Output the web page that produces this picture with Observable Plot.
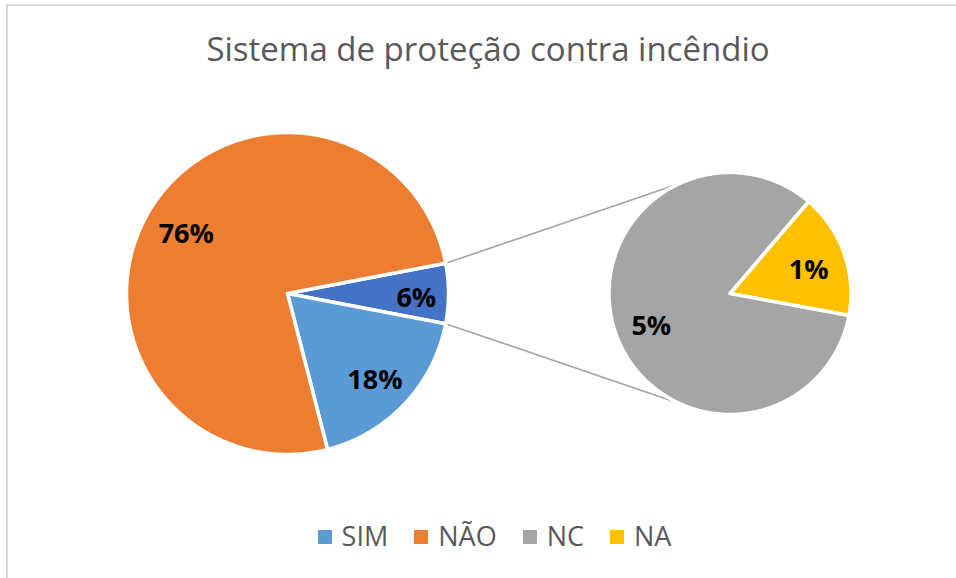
<!DOCTYPE html>
<html><head><meta charset="utf-8">
<script src="https://cdn.jsdelivr.net/npm/d3@7"></script>
<script src="https://cdn.jsdelivr.net/npm/@observablehq/plot@0.6"></script>
<style>
html,body{margin:0;padding:0;background:#fff;overflow:hidden;width:956px;height:578px;position:relative}
#frame{position:absolute;left:6px;top:4px;width:1200px;height:1200px;border:2px solid #d9d9d9;box-sizing:border-box}
#chart{position:absolute;left:0;top:0}
#title{position:absolute;left:0;width:976px;top:29px;line-height:40px;text-align:center;font-family:"Open Sans";font-size:33px;color:#595959;white-space:nowrap}
#legend{position:absolute;left:0;width:989px;top:521px;height:30px;display:flex;justify-content:center;align-items:center;font-family:"Open Sans";font-size:27px;line-height:30px;color:#595959}
.item{display:flex;align-items:center;margin:0 13px}
.sw{width:14px;height:14px;margin-right:10px;position:relative;top:1px}
</style></head>
<body>
<div id="frame"></div>
<div id="chart"></div>
<div id="title">Sistema de proteção contra incêndio</div>
<div id="legend"></div>
<script>
// ---- data ----
const categories = ["SIM", "NÃO", "NC", "NA"];
const values = [18, 76, 5, 1];
const colors = ["#5B9BD5", "#ED7D31", "#A5A5A5", "#FFC000"];
const otherLabel = "Outros";
const otherColor = "#4472C4";
const mainOrder = ["Outros", "SIM", "NÃO"];
const subOrder = ["NA", "NC"];

// ---- layout constants ----
const W = 956, H = 578;
const main = {cx: 287, cy: 293, r: 161};
const sub = {cx: 729.5, cy: 293, r: 121};
const deg = Math.PI / 180;

const val = Object.fromEntries(categories.map((c, i) => [c, values[i]]));
val[otherLabel] = subOrder.reduce((s, c) => s + val[c], 0);
const total = d3.sum(values);

function arcs(order, startDeg) {
  const pie = d3.pie().sort(null).value(k => val[k])
    .startAngle(startDeg * deg).endAngle(startDeg * deg + 2 * Math.PI);
  return pie(order);
}
const otherSpan = val[otherLabel] / total * 360;
const mainArcs = arcs(mainOrder, 90 - otherSpan / 2);
const subArcs = arcs(subOrder, 40.5);

const pt = (c, r, a) => ({x: c.cx + r * Math.sin(a), y: c.cy - r * Math.cos(a)});

const polys = [];
function addPolys(c, list, tag) {
  for (const a of list) {
    const key = tag + a.data;
    polys.push({key, cat: a.data, ...pt(c, 0, 0)});
    const n = Math.max(2, Math.ceil((a.endAngle - a.startAngle) / deg * 2));
    for (let i = 0; i <= n; i++) {
      const t = a.startAngle + (a.endAngle - a.startAngle) * i / n;
      polys.push({key, cat: a.data, ...pt(c, c.r, t)});
    }
    polys.push({key, cat: a.data, ...pt(c, 0, 0)});
  }
}
addPolys(main, mainArcs, "m");
addPolys(sub, subArcs, "s");

const labels = [];
for (const a of mainArcs) {
  const m = (a.startAngle + a.endAngle) / 2;
  const f = a.data === otherLabel ? 0.8 : 0.745;
  labels.push({...pt(main, main.r * f, m), text: Math.round(val[a.data] / total * 100) + "%"});
}
for (const a of subArcs) {
  const m = (a.startAngle + a.endAngle) / 2;
  labels.push({...pt(sub, sub.r * 0.69, m), text: Math.round(val[a.data] / total * 100) + "%"});
}

const oth = mainArcs.find(a => a.data === otherLabel);
const connectors = [
  {p1: pt(main, main.r, oth.startAngle), p2: pt(sub, sub.r, 335 * deg)},
  {p1: pt(main, main.r, oth.endAngle), p2: pt(sub, sub.r, 205 * deg)}
];

const chart = Plot.plot({
  width: W, height: H, margin: 0,
  x: {domain: [0, W], range: [0, W], axis: null},
  y: {domain: [0, H], range: [0, H], axis: null},
  color: {domain: [...categories, otherLabel], range: [...colors, otherColor]},
  style: {background: "transparent"},
  marks: [
    Plot.link(connectors, {x1: d => d.p1.x, y1: d => d.p1.y, x2: d => d.p2.x, y2: d => d.p2.y,
      stroke: "#A5A5A5", strokeWidth: 1.6}),
    Plot.line(polys, {x: "x", y: "y", z: "key", fill: "cat", stroke: "white",
      strokeWidth: 3.5, strokeLinejoin: "round", curve: "linear"}),
    Plot.text(labels, {x: "x", y: "y", text: "text", fill: "black", fontSize: 27, dy: 5,
      fontWeight: "bold", fontFamily: "Open Sans"})
  ]
});
document.getElementById("chart").appendChild(chart);

const legend = document.getElementById("legend");
categories.forEach((c, i) => {
  const it = document.createElement("div");
  it.className = "item";
  const sw = document.createElement("div");
  sw.className = "sw";
  sw.style.background = colors[i];
  const tx = document.createElement("span");
  tx.textContent = c;
  it.appendChild(sw); it.appendChild(tx);
  legend.appendChild(it);
});
</script>
</body></html>
